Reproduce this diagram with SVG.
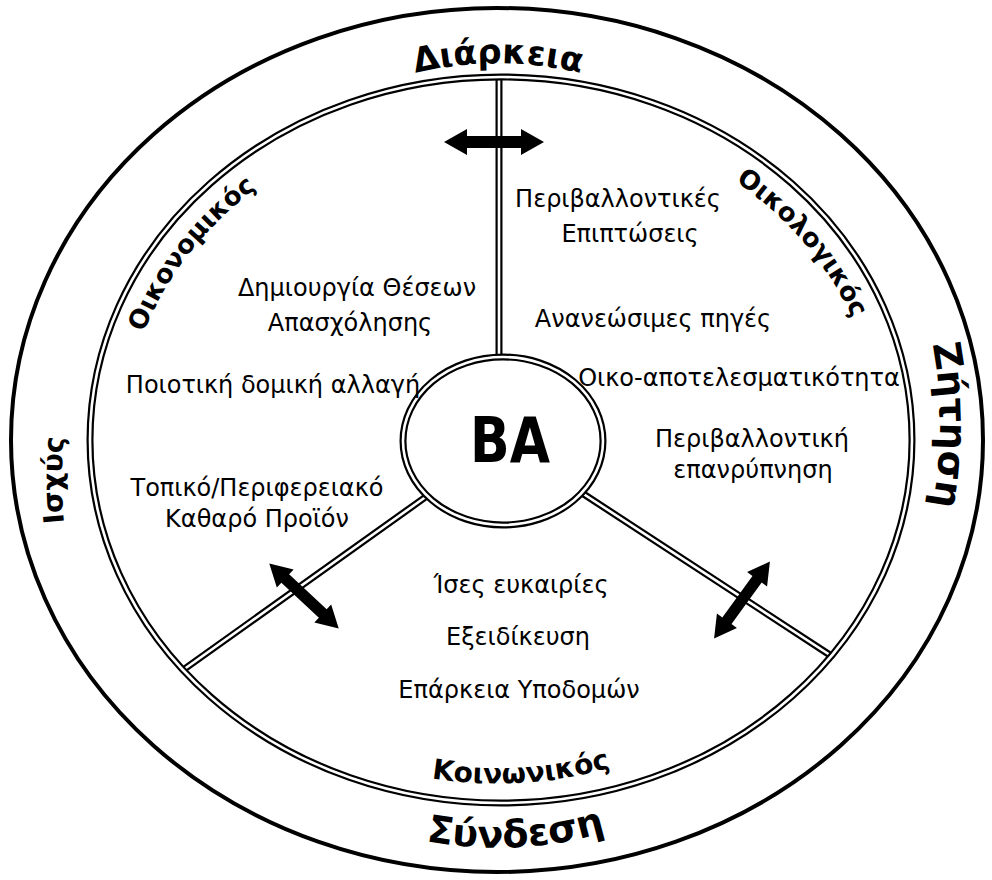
<svg xmlns="http://www.w3.org/2000/svg" width="992" height="880" viewBox="0 0 992 880">
<style>
.bk{fill:none;stroke:#000;stroke-width:7}
.wh{fill:none;stroke:#fff;stroke-width:2.6}
.t{font-family:"DejaVu Sans","Liberation Sans",sans-serif;font-size:24px;fill:#000;text-anchor:middle}
.b{font-family:"DejaVu Sans","Liberation Sans",sans-serif;font-weight:bold;fill:#000;text-anchor:middle}
</style>
<defs>
<polygon id="arr" points="-50,0 -27,-13 -27,-6 27,-6 27,-13 50,0 27,13 27,6 -27,6 -27,13" fill="#000"/>
<path id="pTop" d="M189,241.5 A357,357 0 0 1 807,241.5"/>
<path id="pBot" d="M168,658 A380,380 0 0 0 826,658"/>
<path id="pLeft" d="M121,700 A440,440 0 0 1 121,260"/>
<path id="pRight" d="M881,205 A440,440 0 0 1 881,645"/>
<path id="pKoin" d="M133,573 A420,420 0 0 0 861,573"/>
<path id="pOikon" d="M134.2,519.8 A378,330 0 0 1 409.6,119.8"/>
<path id="pOikol" d="M566.6,115 A378,330 0 0 1 873.3,497.3"/>
</defs>
<rect width="992" height="880" fill="#fff"/>
<g id="outer-ring">
<ellipse cx="497" cy="440" rx="486" ry="432" fill="none" stroke="#000" stroke-width="4"/>
</g>
<g id="connectors">
<line class="bk" x1="499" y1="78" x2="499" y2="358"/>
<line class="wh" x1="499" y1="78" x2="499" y2="358"/>
<line class="bk" x1="183" y1="670" x2="427" y2="496"/>
<line class="wh" x1="183" y1="670" x2="427" y2="496"/>
<line class="bk" x1="833" y1="657" x2="582" y2="493"/>
<line class="wh" x1="833" y1="657" x2="582" y2="493"/>
<use href="#arr" transform="translate(494,142)"/>
<use href="#arr" transform="translate(304,596) rotate(43) scale(0.95)"/>
<use href="#arr" transform="translate(742,600) rotate(126) scale(0.95)"/>
</g>
<g id="inner-ring">
<ellipse class="bk" cx="501" cy="440" rx="411" ry="363"/>
<ellipse class="wh" cx="501" cy="440" rx="411" ry="363"/>
</g>
<g id="center">
<ellipse cx="503" cy="441" rx="100" ry="84" fill="#fff"/>
<ellipse class="bk" cx="503" cy="441" rx="100" ry="84"/>
<ellipse class="wh" cx="503" cy="441" rx="100" ry="84"/>
<text x="510" y="462" class="b" font-size="62" textLength="80" lengthAdjust="spacingAndGlyphs">BA</text>
</g>
<g id="outer-labels">
<text class="b" font-size="34"><textPath href="#pTop" startOffset="50%">Διάρκεια</textPath></text>
<text class="b" font-size="38"><textPath href="#pBot" startOffset="417">Σύνδεση</textPath></text>
<text class="b" font-size="28"><textPath href="#pLeft" startOffset="50%">Ισχύς</textPath></text>
<text class="b" font-size="38"><textPath href="#pRight" startOffset="50%">Ζήτηση</textPath></text>
</g>
<g id="sector-labels">
<text class="b" font-size="28"><textPath href="#pKoin" startOffset="465">Κοινωνικός</textPath></text>
<text class="b" font-size="26"><textPath href="#pOikon" startOffset="52%">Οικονομικός</textPath></text>
<text class="b" font-size="26"><textPath href="#pOikol" startOffset="50%">Οικολογικός</textPath></text>
</g>
<g id="ecological">
<text class="t" x="618" y="207">Περιβαλλοντικές</text>
<text class="t" x="630" y="242">Επιπτώσεις</text>
<text class="t" x="653" y="327">Ανανεώσιμες πηγές</text>
<text class="t" x="739" y="386">Οικο-αποτελεσματικότητα</text>
<text class="t" x="752" y="447">Περιβαλλοντική</text>
<text class="t" x="753" y="478">επανρύπνηση</text>
</g>
<g id="economic">
<text class="t" x="357" y="296">Δημιουργία Θέσεων</text>
<text class="t" x="350" y="331">Απασχόλησης</text>
<text class="t" x="273" y="393">Ποιοτική δομική αλλαγή</text>
<text class="t" x="257" y="496">Τοπικό/Περιφερειακό</text>
<text class="t" x="257" y="527">Καθαρό Προϊόν</text>
</g>
<g id="social">
<text class="t" x="521" y="593">Ίσες ευκαιρίες</text>
<text class="t" x="518" y="645">Εξειδίκευση</text>
<text class="t" x="519" y="698">Επάρκεια Υποδομών</text>
</g>
</svg>
